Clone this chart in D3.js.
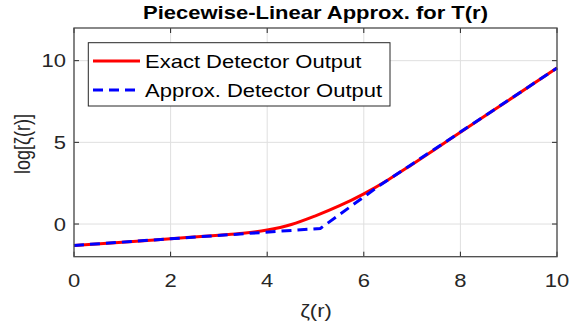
<!DOCTYPE html>
<html><head><meta charset="utf-8">
<script src="https://cdn.jsdelivr.net/npm/d3@7"></script>
<style>body{margin:0;background:#fff}svg{display:block}text{font-family:"Liberation Sans",Arial,sans-serif}</style>
</head><body>
<svg id="c" width="570" height="331"></svg>
<script>
const exactX = [0, 1, 2, 3, 3.5, 4, 4.5, 5, 5.5, 6, 6.5, 7, 7.5, 8, 9, 10];
const exactY = [-1.31, -1.11, -0.9, -0.69, -0.57, -0.37, -0.03, 0.5, 1.12, 1.85, 2.7, 3.65, 4.62, 5.62, 7.58, 9.55];
const approxX = [0, 5.1, 6.3, 10];
const approxY = [-1.31, -0.27, 2.3, 9.55];
const xTicks = [0, 2, 4, 6, 8, 10];
const yTicks = [0, 5, 10];
const seriesNames = ["Exact Detector Output", "Approx. Detector Output"];
const titleText = "Piecewise-Linear Approx. for T(r)";
const xLabel = "\u03B6(r)";
const yLabel = "log[\u03B6(r)]";

const svg = d3.select("#c");
const L = 74, R = 557, T = 28, B = 256.7;
const SY = 0.82;
const x = d3.scaleLinear().domain([0, 10]).range([L, R]);
const y = d3.scaleLinear().domain([-2, 12]).range([B, T]);
const axisCol = "#262626";

// grid
const g = svg.append("g");
g.selectAll(".gx").data(xTicks).enter().append("line")
  .attr("x1", d => x(d)).attr("x2", d => x(d)).attr("y1", T).attr("y2", B)
  .attr("stroke", "#dfdfdf").attr("stroke-width", 1);
g.selectAll(".gy").data(yTicks).enter().append("line")
  .attr("y1", d => y(d)).attr("y2", d => y(d)).attr("x1", L).attr("x2", R)
  .attr("stroke", "#dfdfdf").attr("stroke-width", 1);

// lines
const exact = exactX.map((v, i) => [v, exactY[i]]);
const approx = approxX.map((v, i) => [v, approxY[i]]);
svg.append("path").datum(exact)
  .attr("d", d3.line().x(d => x(d[0])).y(d => y(d[1])).curve(d3.curveMonotoneX))
  .attr("fill", "none").attr("stroke", "#ff0000").attr("stroke-width", 3);
svg.append("path").datum(approx)
  .attr("d", d3.line().x(d => x(d[0])).y(d => y(d[1])))
  .attr("fill", "none").attr("stroke", "#0000ff").attr("stroke-width", 3)
  .attr("stroke-dasharray", "10,6");

// axes
const ax = svg.append("g");
const tickLen = 5;
xTicks.forEach(t => {
  ax.append("line").attr("x1", x(t)).attr("x2", x(t)).attr("y1", B).attr("y2", B - tickLen).attr("stroke", axisCol);
  ax.append("line").attr("x1", x(t)).attr("x2", x(t)).attr("y1", T).attr("y2", T + tickLen).attr("stroke", axisCol);
  ax.append("text").attr("transform", `translate(${x(t)},${287}) scale(1,${SY})`)
    .attr("text-anchor", "middle").attr("font-size", 22).attr("fill", axisCol).text(t);
});
yTicks.forEach(t => {
  ax.append("line").attr("y1", y(t)).attr("y2", y(t)).attr("x1", L).attr("x2", L + tickLen).attr("stroke", axisCol);
  ax.append("line").attr("y1", y(t)).attr("y2", y(t)).attr("x1", R).attr("x2", R - tickLen).attr("stroke", axisCol);
  ax.append("text").attr("transform", `translate(${66},${y(t) + 6.5}) scale(1,${SY})`)
    .attr("text-anchor", "end").attr("font-size", 22).attr("fill", axisCol).text(t);
});
ax.append("rect").attr("x", L).attr("y", T).attr("width", R - L).attr("height", B - T)
  .attr("fill", "none").attr("stroke", "#4a4a4a").attr("stroke-width", 1.3);

// labels
svg.append("text").attr("transform", `translate(${(L + R) / 2},${19}) scale(1,${SY})`)
  .attr("text-anchor", "middle").attr("font-size", 22).attr("font-weight", "bold").attr("fill", "#000").text(titleText);
svg.append("text").attr("transform", `translate(${316},${317}) scale(1,${SY})`)
  .attr("text-anchor", "middle").attr("font-size", 22).attr("fill", axisCol).text(xLabel);
svg.append("text").attr("transform", `translate(${30},${144}) rotate(-90) scale(${SY},1)`)
  .attr("text-anchor", "middle").attr("font-size", 22).attr("fill", axisCol).text(yLabel);

// legend
const lg = svg.append("g");
lg.append("rect").attr("x", 88.3).attr("y", 42.7).attr("width", 301.7).attr("height", 63.3)
  .attr("fill", "#fff").attr("stroke", "#262626").attr("stroke-width", 1);
const rows = [{y: 61, col: "#ff0000", dash: null}, {y: 90, col: "#0000ff", dash: "10,6"}];
rows.forEach((r, i) => {
  const l = lg.append("line").attr("x1", 93).attr("x2", 140).attr("y1", r.y).attr("y2", r.y)
    .attr("stroke", r.col).attr("stroke-width", 3);
  if (r.dash) l.attr("stroke-dasharray", r.dash);
  lg.append("text").attr("transform", `translate(${145},${r.y + 7}) scale(1,${SY})`)
    .attr("font-size", 22).attr("fill", "#000").text(seriesNames[i]);
});
</script>
</body></html>
